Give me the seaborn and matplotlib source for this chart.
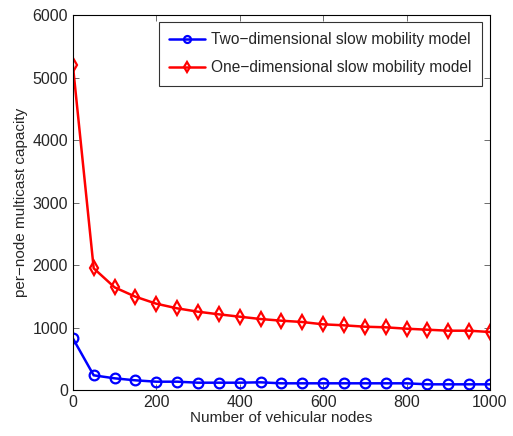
import matplotlib
matplotlib.use("Agg")
import matplotlib.pyplot as plt
import seaborn as sns
import pandas as pd

nodes = [0, 50, 100, 150, 200, 250, 300, 350, 400, 450, 500,
         550, 600, 650, 700, 750, 800, 850, 900, 950, 1000]
two_dim = [827, 235, 187, 155, 133, 133, 117, 117, 117, 123, 107,
           107, 107, 107, 107, 107, 107, 91, 91, 91, 91]
one_dim = [5200, 1947, 1643, 1493, 1381, 1307, 1253, 1211, 1173, 1136, 1109,
           1088, 1051, 1035, 1013, 1003, 981, 965, 949, 949, 928]
labels = ["Two\u2212dimensional slow mobility model",
          "One\u2212dimensional slow mobility model"]
x_ticks = [0, 200, 400, 600, 800, 1000]
y_ticks = [0, 1000, 2000, 3000, 4000, 5000, 6000]

df = pd.concat([
    pd.DataFrame({"nodes": nodes, "capacity": two_dim, "model": labels[0]}),
    pd.DataFrame({"nodes": nodes, "capacity": one_dim, "model": labels[1]}),
])

sns.set_style("white")
plt.rcParams["font.family"] = ["Liberation Sans", "DejaVu Sans"]

fig = plt.figure(figsize=(5.13, 4.36), dpi=100)
ax = fig.add_axes([0.142, 0.1055, 0.813, 0.86])

sns.lineplot(data=df, x="nodes", y="capacity", hue="model", style="model",
             palette=["#0000ff", "#ff0000"], markers=["o", "d"], dashes=False,
             markersize=7, markerfacecolor="none", markeredgewidth=1.6,
             linewidth=1.8, ax=ax)
for line in ax.lines:
    line.set_markerfacecolor("none")
    line.set_markeredgecolor(line.get_color())

ax.set_xlim(0, 1000)
ax.set_ylim(0, 6000)
ax.set_xticks(x_ticks)
ax.set_yticks(y_ticks)
ax.set_xlabel("Number of vehicular nodes", fontsize=11, labelpad=1)
ax.set_ylabel("per\u2212node multicast capacity", fontsize=11, labelpad=3)
ax.tick_params(direction="in", length=4, width=0.6, labelsize=11.5,
               top=True, right=True, bottom=True, left=True, color="#555555")
for s in ax.spines.values():
    s.set_color("black")
    s.set_linewidth(0.8)

leg = ax.legend(loc="upper right", fontsize=11.2, frameon=True, fancybox=False,
                edgecolor="black", borderpad=0.65, handlelength=2.3,
                handletextpad=0.4, labelspacing=0.85, borderaxespad=0,
                bbox_to_anchor=(0.981, 0.981))
leg.get_frame().set_linewidth(0.8)
for h in leg.get_lines():
    h.set_markerfacecolor("none")
    h.set_markersize(5)

fig.savefig("out.png", dpi=100)
